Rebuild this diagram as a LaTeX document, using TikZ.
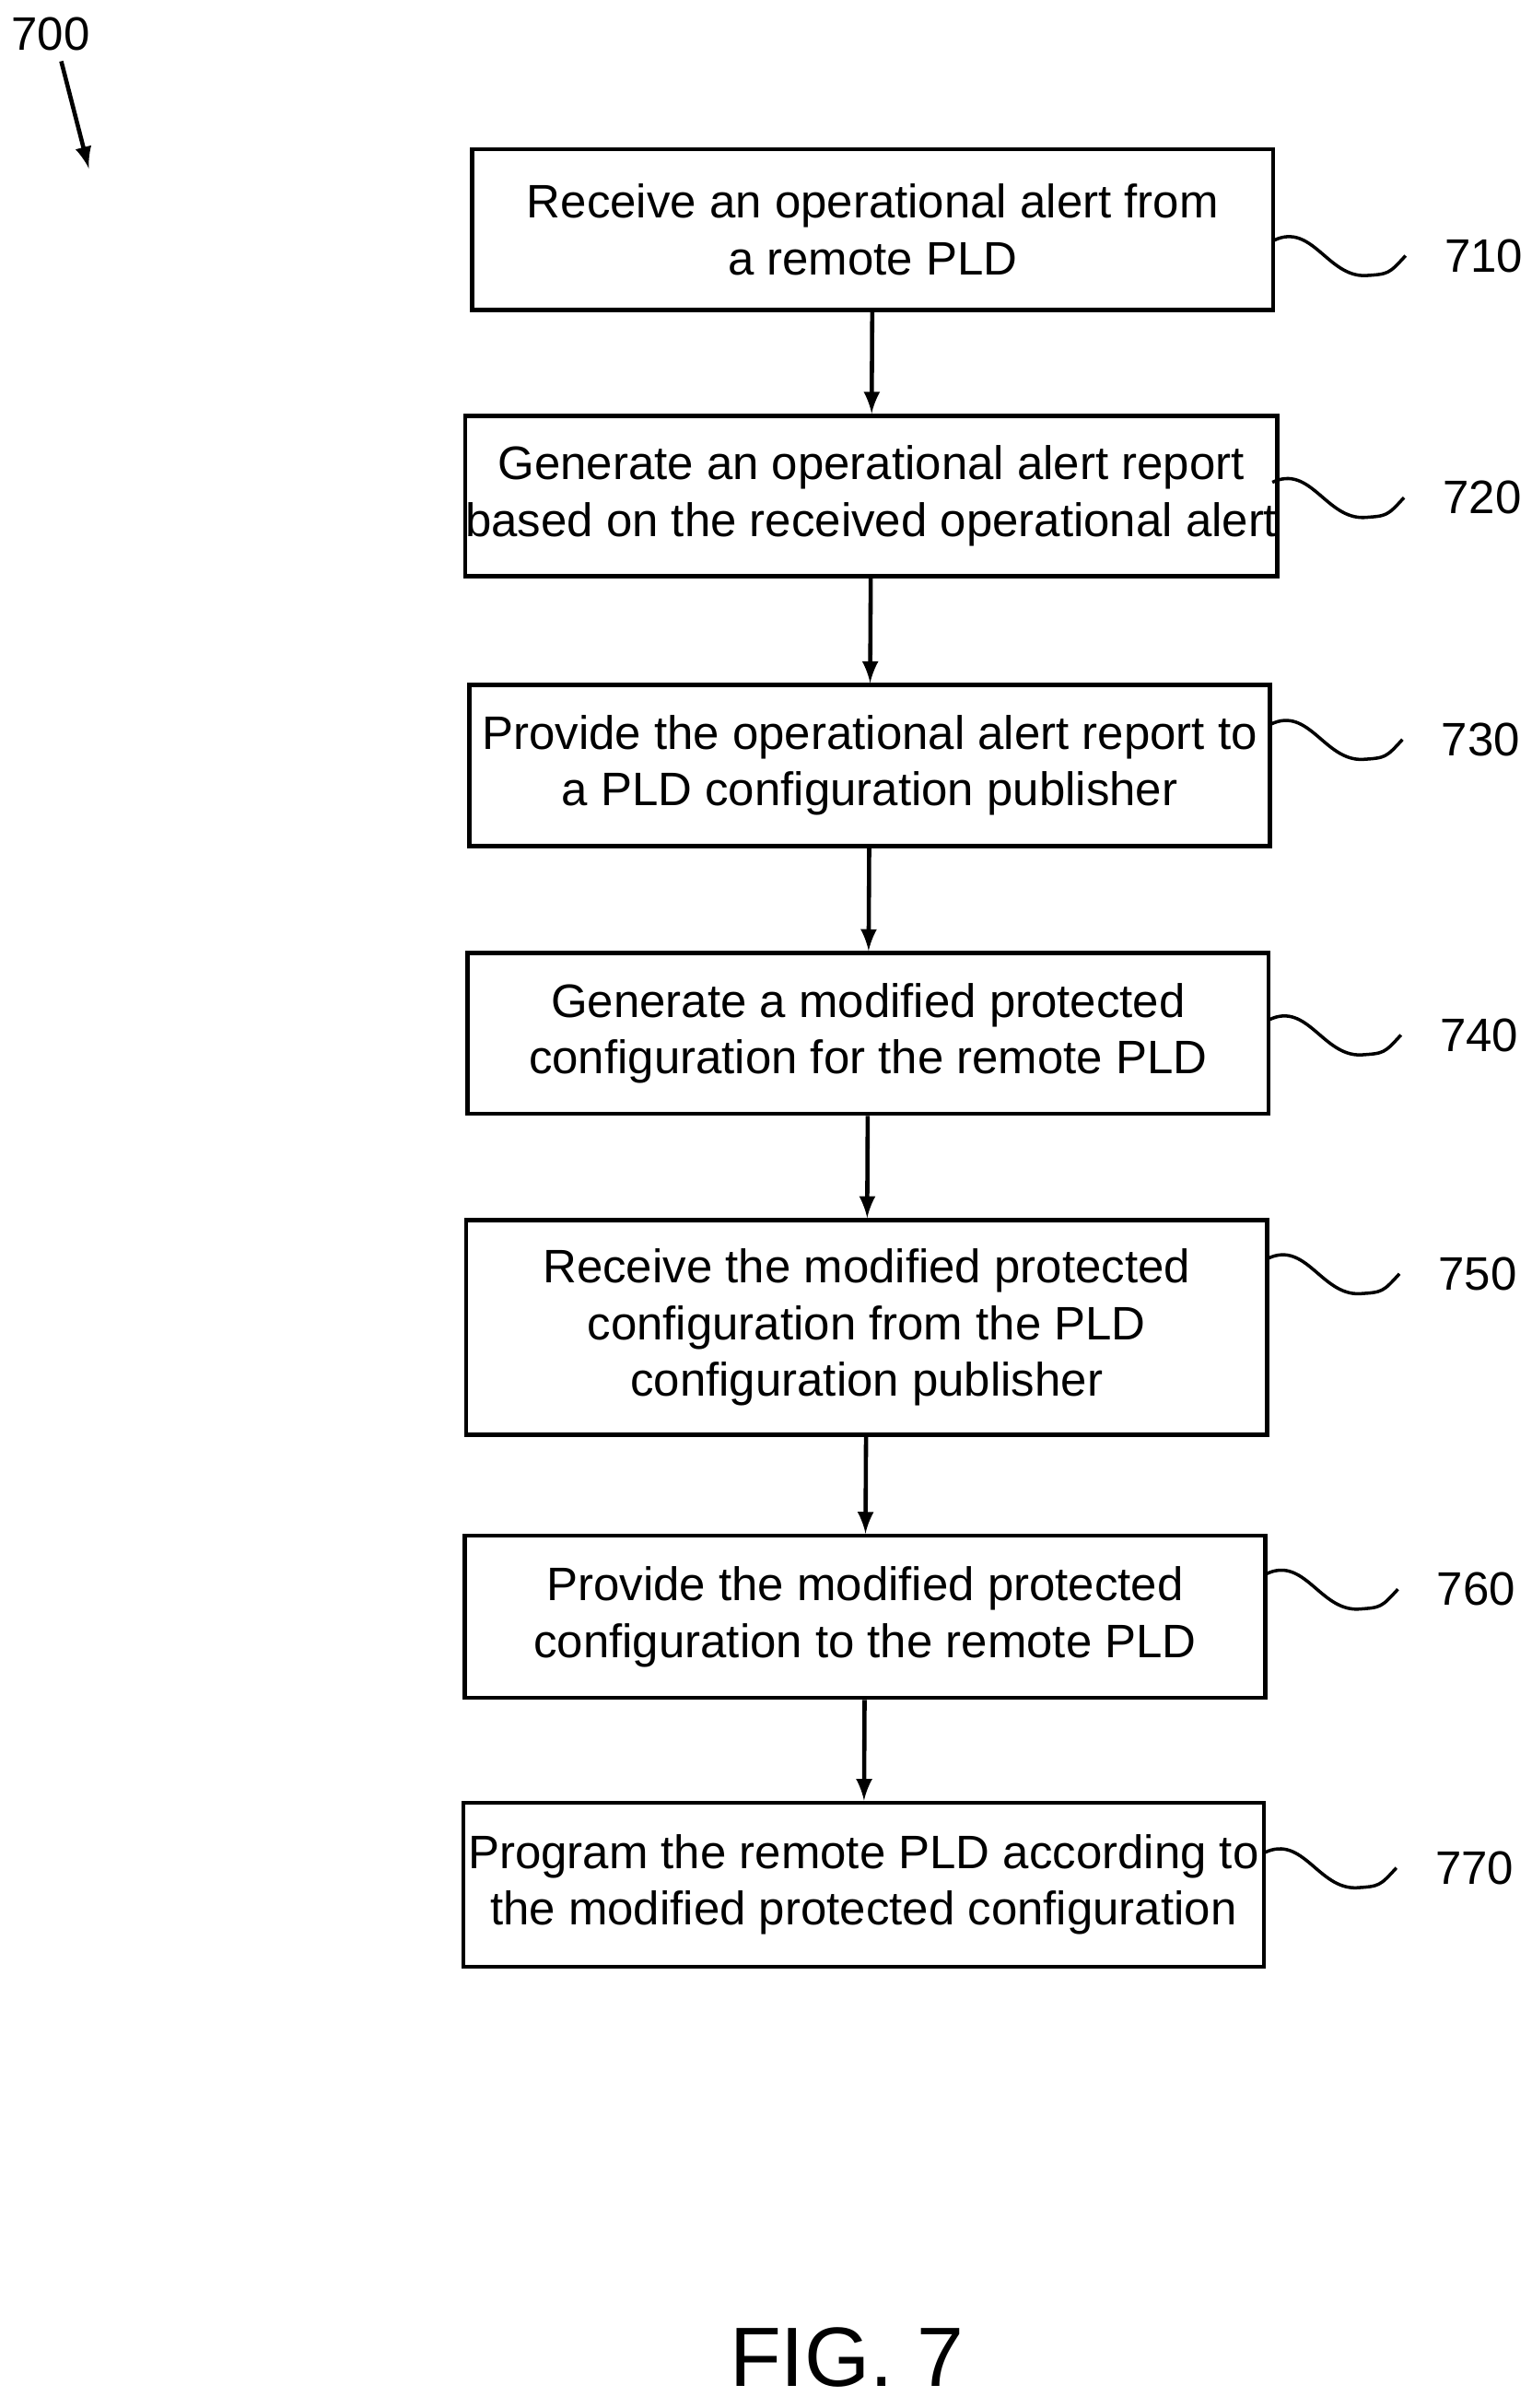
\documentclass[tikz,border=0pt]{standalone}
\usepackage{fontspec}
\setmainfont{Liberation Sans}
\begin{document}
\begin{tikzpicture}[x=0.01662cm,y=-0.01662cm,
  box/.style={draw,line width=1.3pt,minimum width=8.69cm,align=center,inner sep=0pt,
    font=\fontsize{14.5}{17.5}\selectfont},
  arr/.style={->,>=latex,line width=1.3pt},
  tag/.style={font=\fontsize{14.5}{17}\selectfont}]
\useasboundingbox (0,0) rectangle (1000,1572.8);
\node[tag] (n700) at (33,22) {700};
\draw[arr] (40,40) -- (58,110);
\node[box,minimum height=1.745cm] (s710) at (570,150) {Receive an operational alert from\\a remote PLD};
\node[box,minimum height=1.745cm] (s720) at (569,324) {Generate an operational alert report\\based on the received operational alert};
\node[box,minimum height=1.745cm] (s730) at (568,500) {Provide the operational alert report to\\a PLD configuration publisher};
\node[box,minimum height=1.745cm] (s740) at (567,675) {Generate a modified protected\\configuration for the remote PLD};
\node[box,minimum height=2.33cm] (s750) at (566,867) {Receive the modified protected\\configuration from the PLD\\configuration publisher};
\node[box,minimum height=1.76cm] (s760) at (565,1056) {Provide the modified protected\\configuration to the remote PLD};
\node[box,minimum height=1.78cm] (s770) at (564,1231) {Program the remote PLD according to\\the modified protected configuration};
\foreach \a/\b in {s710/s720,s720/s730,s730/s740,s740/s750,s750/s760,s760/s770}
  \draw[arr] (\a) -- (\b);
% reference numerals
\foreach \n/\x/\y in {710/832/167,720/831/325,730/830/483,740/829/676,750/828/832,760/827/1038,770/826/1220}{
  \coordinate (c\n) at (\x+86,\y);
  \draw[line width=1pt] (\x,\y-10) .. controls (\x+25,\y-22) and (\x+35,\y+14) .. (\x+60,\y+13)
    .. controls (\x+75,\y+12) .. (c\n);
  \node[tag,anchor=west] (l\n) at ([xshift=0.3cm]c\n) {\n};
}
\node[font=\fontsize{26}{30}\selectfont] (fig) at (553,1540) {FIG. 7};
\end{tikzpicture}
\end{document}
